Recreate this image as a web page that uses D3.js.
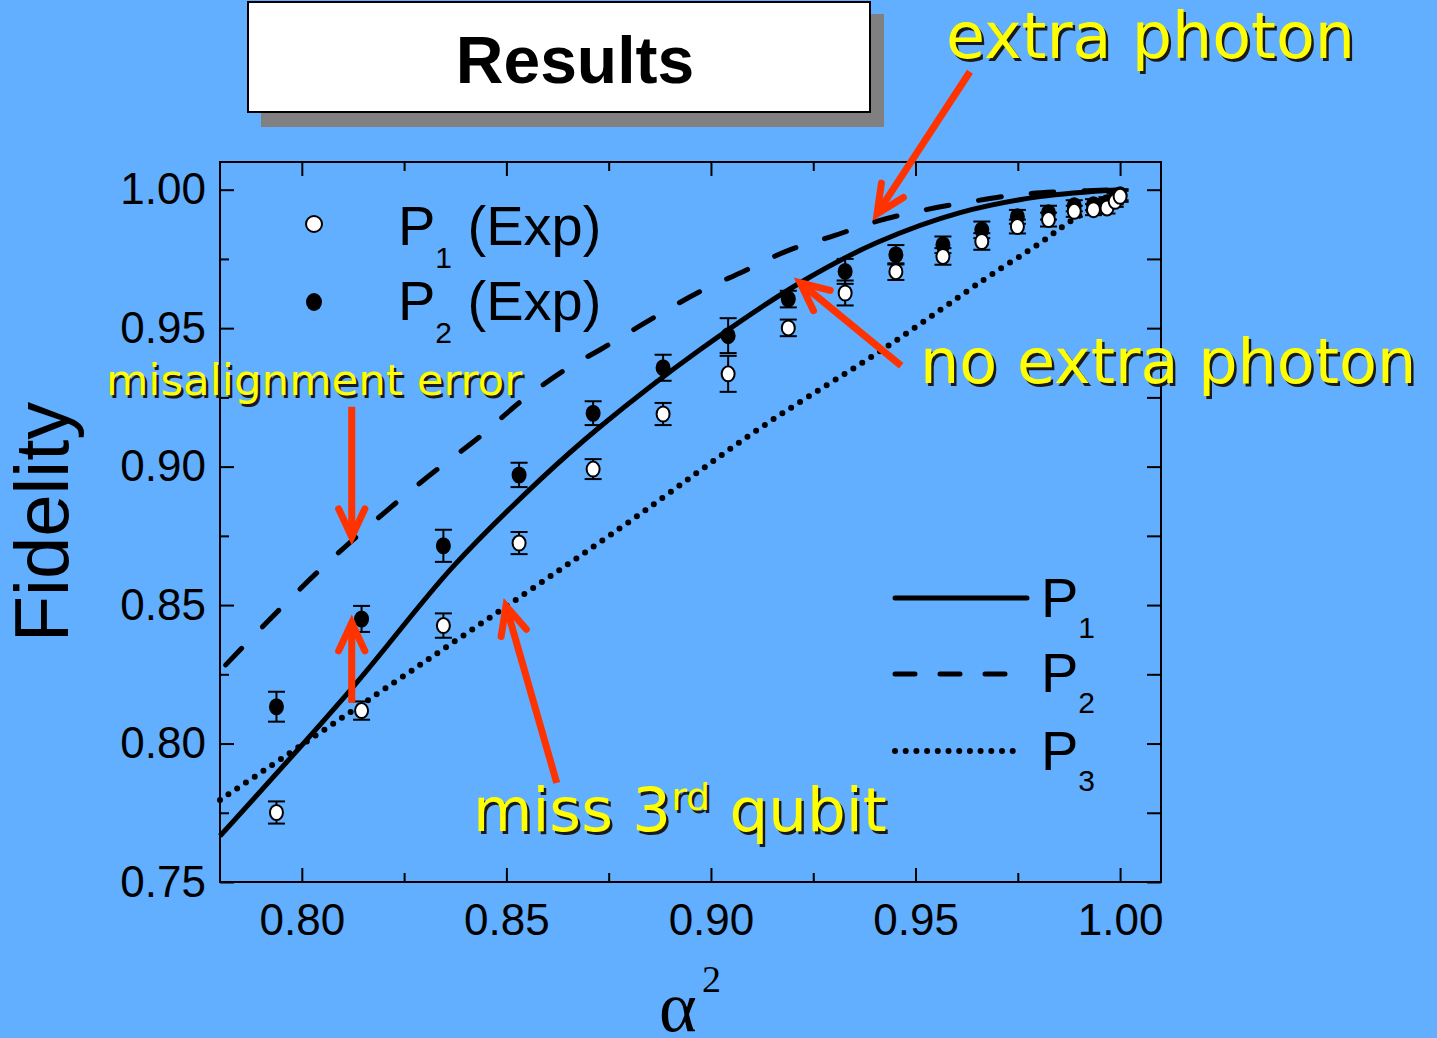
<!DOCTYPE html>
<html><head><meta charset="utf-8">
<script src="https://cdn.jsdelivr.net/npm/d3@7"></script>
<style>html,body{margin:0;padding:0;background:#62aeff;overflow:hidden}</style>
</head><body><svg id="c" width="1437" height="1038"></svg>
<script>
// ---------- data ----------
const alpha2 = [0.7938,0.8146,0.8346,0.8531,0.8712,0.8883,0.9042,0.9189,0.9328,0.9452,0.9567,0.9662,0.9749,0.9825,0.9888,0.9935,0.9968,0.9988,1.0000];
const p1Exp  = [0.7751,0.8119,0.8426,0.8724,0.8991,0.9190,0.9335,0.9501,0.9627,0.9704,0.9759,0.9813,0.9867,0.9892,0.9922,0.9928,0.9934,0.9958,0.9976];
const p1Err  = [0.0040,0.0033,0.0044,0.0040,0.0036,0.0040,0.0065,0.0030,0.0045,0.0030,0.0030,0.0030,0.0025,0.0025,0.0020,0.0020,0.0020,0.0020,0.0020];
const p2Exp  = [0.8133,0.8450,0.8714,0.8970,0.9193,0.9357,0.9473,0.9605,0.9705,0.9765,0.9801,0.9855,0.9902,0.9917,0.9942,0.9946,0.9953,0.9967,0.9982];
const p2Err  = [0.0054,0.0047,0.0058,0.0044,0.0043,0.0047,0.0063,0.0030,0.0045,0.0035,0.0030,0.0030,0.0025,0.0025,0.0020,0.0020,0.0020,0.0020,0.0020];

const p1TheoryX = [0.7800,0.8125,0.8369,0.8582,0.8729,0.8973,0.9218,0.9406,0.9609,0.9804,1.0000];
const p1TheoryY = [0.7666,0.8204,0.8638,0.8952,0.9144,0.9422,0.9664,0.9809,0.9917,0.9975,1.0000];
const p2TheoryX = [0.7814,0.8044,0.8289,0.8435,0.8540,0.8655,0.8729,0.8851,0.8973,0.9078,0.9188,0.9301,0.9411,0.9526,0.9636,0.9751,0.9858,1.0000];
const p2TheoryY = [0.8284,0.8627,0.8941,0.9108,0.9241,0.9361,0.9422,0.9530,0.9632,0.9704,0.9780,0.9834,0.9888,0.9928,0.9957,0.9982,0.9993,1.0000];
const p3TheoryX = [0.7800,0.8289,0.8778,0.9121,0.9431,0.9667,0.9804,0.9885,0.9983,1.0000];
const p3TheoryY = [0.7796,0.8284,0.8778,0.9140,0.9434,0.9675,0.9807,0.9892,0.9971,0.9985];

const xMajor = [0.80,0.85,0.90,0.95,1.00];
const xMinor = [0.825,0.875,0.925,0.975];
const yMajor = [0.75,0.80,0.85,0.90,0.95,1.00];
const yMinor = [0.775,0.825,0.875,0.925,0.975];

// ---------- setup ----------
const BG = '#62aeff', RED = '#ff3300', YEL = '#ffff00';
const SANS = "'Liberation Sans', Arial, Helvetica, sans-serif";
const ANN = "'DejaVu Sans', Verdana, sans-serif";
const svg = d3.select('#c');
svg.append('rect').attr('width',1437).attr('height',1038).attr('fill',BG);

// title box
svg.append('rect').attr('x',261).attr('y',14).attr('width',623).attr('height',113).attr('fill','#808080');
svg.append('rect').attr('x',248).attr('y',2).attr('width',622).attr('height',110)
  .attr('fill','#fff').attr('stroke','#000').attr('stroke-width',2);
svg.append('text').attr('x',575).attr('y',83).attr('text-anchor','middle')
  .attr('font-family',SANS).attr('font-weight','bold').attr('font-size',66).attr('fill','#000').text('Results');

const L=220, R=1161, T=162, B=882;
const x = d3.scaleLinear().domain([0.78,1.01]).range([L,R]);
const y = d3.scaleLinear().domain([0.75,1.01]).range([B,T]);

// axes
function styleAxis(g){
  g.select('.domain').remove();
  g.selectAll('.tick line').attr('stroke','#000').attr('stroke-width',2);
  g.selectAll('.tick text').attr('font-family',SANS).attr('font-size',44).attr('fill','#000');
}
svg.append('g').attr('transform',`translate(0,${B})`)
  .call(d3.axisBottom(x).tickValues(xMajor).tickSize(-14).tickPadding(22).tickFormat(d3.format('.2f'))).call(styleAxis);
svg.append('g').attr('transform',`translate(0,${B})`)
  .call(d3.axisBottom(x).tickValues(xMinor).tickSize(-9).tickFormat('')).call(styleAxis);
svg.append('g').attr('transform',`translate(0,${T})`)
  .call(d3.axisTop(x).tickValues(xMajor).tickSize(-14).tickFormat('')).call(styleAxis);
svg.append('g').attr('transform',`translate(0,${T})`)
  .call(d3.axisTop(x).tickValues(xMinor).tickSize(-9).tickFormat('')).call(styleAxis);
svg.append('g').attr('transform',`translate(${L},0)`)
  .call(d3.axisLeft(y).tickValues(yMajor).tickSize(-14).tickPadding(14).tickFormat(d3.format('.2f'))).call(styleAxis);
svg.append('g').attr('transform',`translate(${L},0)`)
  .call(d3.axisLeft(y).tickValues(yMinor).tickSize(-9).tickFormat('')).call(styleAxis);
svg.append('g').attr('transform',`translate(${R},0)`)
  .call(d3.axisRight(y).tickValues(yMajor).tickSize(-14).tickFormat('')).call(styleAxis);
svg.append('g').attr('transform',`translate(${R},0)`)
  .call(d3.axisRight(y).tickValues(yMinor).tickSize(-14).tickFormat('')).call(styleAxis);
svg.append('rect').attr('x',L).attr('y',T).attr('width',R-L).attr('height',B-T)
  .attr('fill','none').attr('stroke','#000').attr('stroke-width',2);

// axis titles
svg.append('text').attr('transform','translate(68,522) rotate(-90)').attr('text-anchor','middle')
  .attr('font-family',SANS).attr('font-size',76).attr('fill','#000').text('Fidelity');
const xt = svg.append('text').attr('x',659).attr('y',1031).attr('font-family',"'Liberation Serif','Times New Roman',serif").attr('fill','#000');
xt.append('tspan').attr('font-size',72).text('α');
xt.append('tspan').attr('x',702).attr('y',992).attr('font-size',38).text('2');

// theory curves
const line = d3.line().x(d=>x(d[0])).y(d=>y(d[1])).curve(d3.curveCatmullRom.alpha(0.5));
svg.append('path').datum(d3.zip(p1TheoryX,p1TheoryY)).attr('d',line)
  .attr('fill','none').attr('stroke','#000').attr('stroke-width',5);
svg.append('path').datum(d3.zip(p2TheoryX,p2TheoryY)).attr('d',line)
  .attr('fill','none').attr('stroke','#000').attr('stroke-width',5)
  .attr('stroke-dasharray','23 30').attr('stroke-linecap','round');
svg.append('path').datum(d3.zip(p3TheoryX,p3TheoryY)).attr('d',line)
  .attr('fill','none').attr('stroke','#000').attr('stroke-width',6)
  .attr('stroke-dasharray','0 10.5').attr('stroke-linecap','round');

// experimental points
function drawSeries(vals, errs, filled){
  const g = svg.append('g');
  const pts = alpha2.map((a,i)=>({a, v:vals[i], e:errs[i]}));
  const eb = g.selectAll('g.eb').data(pts).join('g');
  eb.append('line').attr('x1',d=>x(d.a)).attr('x2',d=>x(d.a)).attr('y1',d=>y(d.v-d.e)).attr('y2',d=>y(d.v+d.e))
    .attr('stroke','#000').attr('stroke-width',2);
  [1,-1].forEach(s=>{
    eb.append('line').attr('x1',d=>x(d.a)-8.5).attr('x2',d=>x(d.a)+8.5)
      .attr('y1',d=>y(d.v+s*d.e)).attr('y2',d=>y(d.v+s*d.e)).attr('stroke','#000').attr('stroke-width',2);
  });
  g.selectAll('ellipse').data(pts).join('ellipse')
    .attr('cx',d=>x(d.a)).attr('cy',d=>y(d.v)).attr('rx',6.5).attr('ry',7.5)
    .attr('fill',filled?'#000':'#fff').attr('stroke','#000').attr('stroke-width',2);
}
drawSeries(p2Exp,p2Err,true);
drawSeries(p1Exp,p1Err,false);

// legend (markers)
svg.append('ellipse').attr('cx',314).attr('cy',224).attr('rx',8).attr('ry',8).attr('fill','#fff').attr('stroke','#000').attr('stroke-width',2);
svg.append('ellipse').attr('cx',314).attr('cy',302).attr('rx',8).attr('ry',9).attr('fill','#000');
[['1',245],['2',320]].forEach(([s,by])=>{
  const t = svg.append('text').attr('x',398).attr('y',by).attr('font-family',SANS).attr('font-size',56).attr('fill','#000');
  t.append('tspan').text('P');
  t.append('tspan').attr('font-size',30).attr('dy',23).text(s);
  t.append('tspan').attr('dy',-23).text(' (Exp)');
});
// legend (lines)
const lg = [
  {y:598, x2:1027, dash:null, w:5, by:617, s:'1'},
  {y:674, x2:1005, dash:'20 25', w:5, by:692, s:'2'},
  {y:751, x2:1022, dash:'0 10.7', w:6, by:770, s:'3'}
];
lg.forEach(d=>{
  const p = svg.append('line').attr('x1',895).attr('x2',d.x2).attr('y1',d.y).attr('y2',d.y)
    .attr('stroke','#000').attr('stroke-width',d.w).attr('stroke-linecap','round');
  if(d.dash) p.attr('stroke-dasharray',d.dash);
  const t = svg.append('text').attr('x',1041).attr('y',d.by).attr('font-family',SANS).attr('font-size',56).attr('fill','#000');
  t.append('tspan').text('P');
  t.append('tspan').attr('font-size',30).attr('dy',21).text(d.s);
});

// arrows (tail -> tip, in data coords)
const arrows = [
  [0.9633,1.0426,0.9406,0.9913],
  [0.9465,0.9364,0.9218,0.9664],
  [0.8122,0.9216,0.8122,0.8746],
  [0.8122,0.8147,0.8122,0.8436],
  [0.8623,0.7858,0.8499,0.8497]
];
arrows.forEach(([ax1,ay1,ax2,ay2])=>{
  const x1=x(ax1), y1=y(ay1), x2=x(ax2), y2=y(ay2);
  const ang = Math.atan2(y2-y1,x2-x1);
  const g = svg.append('g').attr('stroke',RED).attr('fill','none').attr('stroke-width',7);
  g.append('line').attr('x1',x1).attr('y1',y1).attr('x2',x2-4*Math.cos(ang)).attr('y2',y2-4*Math.sin(ang));
  const hl=31, ha=25*Math.PI/180;
  const a1=[x2-hl*Math.cos(ang-ha), y2-hl*Math.sin(ang-ha)];
  const a2=[x2-hl*Math.cos(ang+ha), y2-hl*Math.sin(ang+ha)];
  g.append('path').attr('d',`M${a1[0]},${a1[1]}L${x2},${y2}L${a2[0]},${a2[1]}`)
    .attr('stroke-linejoin','miter').attr('stroke-miterlimit',10).attr('stroke-linecap','round');
});

// annotations
function ann(xp, yp, size, parts){
  [[2.5,'#1a1a1a'],[0,YEL]].forEach(([o,c])=>{
    const t = svg.append('text').attr('x',xp+o).attr('y',yp+o).attr('font-family',ANN).attr('font-size',size).attr('fill',c);
    parts.forEach(p=>{
      const ts = t.append('tspan').text(p.t);
      if(p.size) ts.attr('font-size',p.size);
      if(p.dy) ts.attr('dy',p.dy);
    });
  });
}
ann(946,58,63.5,[{t:'extra photon'}]);
ann(920,383,62,[{t:'no extra photon'}]);
ann(106,395,43.5,[{t:'misalignment error'}]);
ann(473,831,61,[{t:'miss 3'},{t:'rd',size:38,dy:-21},{t:' qubit',dy:21}]);
</script></body></html>
